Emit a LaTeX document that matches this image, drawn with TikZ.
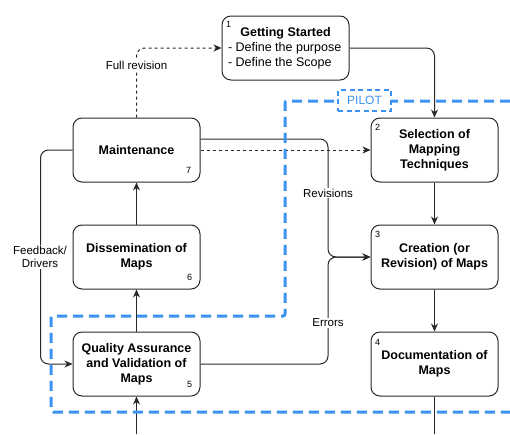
\documentclass[tikz,border=0pt]{standalone}
\usepackage{fontspec}
\setmainfont{Liberation Sans}
\usetikzlibrary{arrows.meta}
\definecolor{pilotblue}{RGB}{61,145,240}
\definecolor{linegray}{RGB}{40,40,40}

\begin{document}
\begin{tikzpicture}[x=1pt,y=-1pt,
    box/.style={draw=linegray,line width=1pt,rounded corners=9pt,minimum width=127pt,minimum height=64pt,align=center,inner sep=2pt,font=\fontsize{12.5}{15}\selectfont\bfseries},
    num/.style={font=\fontsize{9}{10}\selectfont,inner sep=0pt},
    flow/.style={draw=linegray,line width=1pt,rounded corners=8pt,-{Stealth[length=8pt,width=7pt]}},
    tag/.style={fill=white,inner sep=1pt,font=\fontsize{11.5}{13.5}\selectfont,align=center},
    pilot/.style={draw=pilotblue,line width=3pt,dash pattern=on 10pt off 6pt,rounded corners=2pt}]
    \useasboundingbox (0,0) rectangle (510,434);
    \node[box,font=\fontsize{12.5}{15}\selectfont,align=left] (start) at (285.5,48) {\makebox[115pt]{\bfseries Getting Started}\\- Define the purpose\\- Define the Scope};
    \node[box] (select) at (434.5,150) {Selection of\\Mapping\\Techniques};
    \node[box] (create) at (434.5,257) {Creation (or\\Revision) of Maps};
    \node[box] (docu) at (434.5,364) {Documentation of\\Maps};
    \node[box] (maint) at (136.5,150) {Maintenance};
    \node[box] (dissem) at (136.5,257) {Dissemination of\\Maps};
    \node[box] (qa) at (136.5,364) {Quality Assurance\\and Validation of\\Maps};
    \node[num] (n1) at ([shift={(7,9)}]start.north west) {1};
    \node[num] (n2) at ([shift={(7,10)}]select.north west) {2};
    \node[num] (n3) at ([shift={(7,10)}]create.north west) {3};
    \node[num] (n4) at ([shift={(7,11)}]docu.north west) {4};
    \node[num] (n5) at ([shift={(-11,-12)}]qa.south east) {5};
    \node[num] (n6) at ([shift={(-11,-12)}]dissem.south east) {6};
    \node[num] (n7) at ([shift={(-12,-12)}]maint.south east) {7};
    \coordinate (merge) at (328,257);
    \coordinate (revout) at ([yshift=11]maint.east);
    \coordinate (docuout) at (434.5,434);
    \coordinate (qain) at (136.5,434);
    \draw[flow] (start.east) -| (select.north);
    \draw[flow] (select) -- (create);
    \draw[flow] (create) -- (docu);
    \draw[flow,dash pattern=on 3pt off 3pt] (maint.north) |- (start.west);
    \draw[flow,dash pattern=on 3pt off 3pt] (maint.east) -- (select.west);
    \draw[flow] (revout) -| (merge) -- (create.west);
    \draw[flow] (qa.east) -| (merge) -- (create.west);
    \draw[flow] (maint.west) -- ++(-32,0) |- (qa.west);
    \draw[flow] (dissem) -- (maint);
    \draw[flow] (qa) -- (dissem);
    \draw[flow] (qain) -- (qa.south);
    \draw[draw=linegray,line width=1pt] (docu.south) -- (docuout);
    \node[tag] (fullrev) at (136.5,65) {Full revision};
    \node[tag] (revlab) at (328,193) {Revisions};
    \node[tag] (errlab) at (328,323) {Errors};
    \node[tag] (feedlab) at (40,257) {Feedback/\\Drivers};
    \draw[pilot] (510,101) -- (285,101) -- (285,316) -- (51,316) -- (51,412) -- (510,412);
    \node[draw=pilotblue,line width=1.8pt,dash pattern=on 5pt off 3.5pt,fill=white,text=pilotblue,minimum width=53pt,minimum height=21pt,inner sep=0pt,font=\fontsize{12}{14}\selectfont] (pilotlab) at (364.5,100.5) {PILOT};
\end{tikzpicture}
\end{document}
